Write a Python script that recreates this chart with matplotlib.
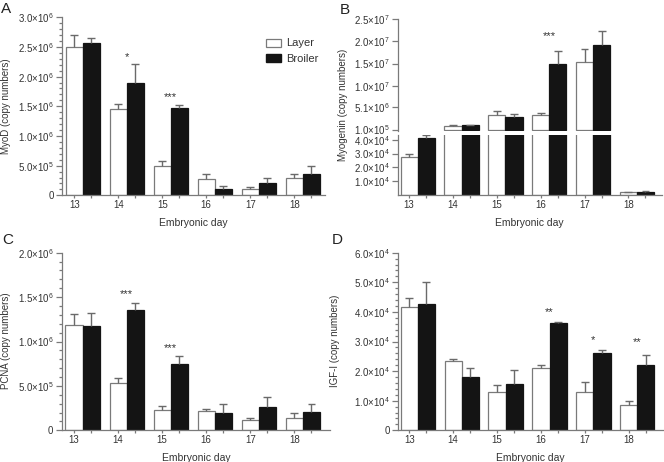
import matplotlib
matplotlib.use("Agg")
import matplotlib.pyplot as plt
import numpy as np
from matplotlib.ticker import FixedLocator, MultipleLocator
from matplotlib.patches import Patch

plt.rcParams['font.family'] = ['Liberation Sans', 'DejaVu Sans']
plt.rcParams['mathtext.fontset'] = 'custom'
plt.rcParams['mathtext.rm'] = 'Liberation Sans'
plt.rcParams['mathtext.it'] = 'Liberation Sans'

days = ["13", "14", "15", "16", "17", "18"]

# Panel A: MyoD
myod_layer = [2.50e6, 1.45e6, 0.50e6, 0.27e6, 0.107e6, 0.29e6]
myod_layer_err = [0.21e6, 0.09e6, 0.07e6, 0.095e6, 0.033e6, 0.07e6]
myod_broiler = [2.56e6, 1.89e6, 1.47e6, 0.11e6, 0.21e6, 0.365e6]
myod_broiler_err = [0.09e6, 0.33e6, 0.05e6, 0.05e6, 0.09e6, 0.135e6]
myod_sig = [(1, "*", 2.38e6), (2, "***", 1.70e6)]

# Panel B: Myogenin
myog_layer = [2.78e4, 1.0e6, 3.27e6, 3.27e6, 1.54e7, 2.2e3]
myog_layer_err = [0.19e4, 0.05e6, 0.93e6, 0.6e6, 2.8e6, 0.1e3]
myog_broiler = [4.12e4, 1.15e6, 2.97e6, 1.48e7, 1.92e7, 2.5e3]
myog_broiler_err = [0.19e4, 0.03e6, 0.63e6, 3.1e6, 3.1e6, 0.3e3]
myog_sig = [(3, "***", 2.18e7)]

# Panel C: PCNA
pcna_layer = [1.186e6, 0.533e6, 0.225e6, 0.214e6, 0.116e6, 0.143e6]
pcna_layer_err = [0.124e6, 0.057e6, 0.045e6, 0.03e6, 0.019e6, 0.047e6]
pcna_broiler = [1.18e6, 1.36e6, 0.747e6, 0.19e6, 0.266e6, 0.206e6]
pcna_broiler_err = [0.14e6, 0.07e6, 0.09e6, 0.11e6, 0.114e6, 0.094e6]
pcna_sig = [(1, "***", 1.56e6), (2, "***", 0.95e6)]

# Panel D: IGF-I
igf_layer = [4.18e4, 2.33e4, 1.29e4, 2.12e4, 1.28e4, 0.86e4]
igf_layer_err = [0.28e4, 0.09e4, 0.24e4, 0.09e4, 0.34e4, 0.12e4]
igf_broiler = [4.27e4, 1.8e4, 1.58e4, 3.61e4, 2.61e4, 2.19e4]
igf_broiler_err = [0.73e4, 0.3e4, 0.45e4, 0.04e4, 0.09e4, 0.37e4]
igf_sig = [(3, "**", 4.09e4), (4, "*", 3.13e4), (5, "**", 3.05e4)]

W, H = 664, 462
fig = plt.figure(figsize=(W / 100, H / 100), dpi=100)

TXT = '#333333'
SPINE = '#7a7a7a'
ERR = '#6a6a6a'
BLACK = '#141414'
BW = 0.39


def rect(l, r, top, bot):
    return [l / W, 1 - bot / H, (r - l) / W, (bot - top) / H]


def sci(v):
    if v == 0:
        return "0"
    e = int(np.floor(np.log10(v)))
    m = v / 10 ** e
    return r"$\mathregular{%.1f{\times}10^{%d}}$" % (m, e)


def style(ax, bottom=True):
    for s in ['top', 'right']:
        ax.spines[s].set_visible(False)
    ax.spines['left'].set_color(SPINE)
    ax.spines['bottom'].set_color(SPINE)
    ax.spines['left'].set_linewidth(0.9)
    ax.spines['bottom'].set_linewidth(0.9)
    ax.tick_params(axis='both', which='both', colors=SPINE, labelcolor=TXT,
                   labelsize=7, width=0.9, direction='out')
    ax.tick_params(axis='y', which='major', length=4, pad=2)
    ax.tick_params(axis='y', which='minor', length=2.5)
    ax.tick_params(axis='x', which='major', length=2.2, pad=1.2)
    if not bottom:
        ax.spines['bottom'].set_visible(False)


def bars(ax, layer, lerr, broiler, berr, floor=None):
    x = np.arange(len(days))
    for xs, vals, errs, fc, ec in [(x, layer, lerr, 'white', SPINE),
                                   (x + BW, broiler, berr, BLACK, BLACK)]:
        vals = np.array(vals, dtype=float)
        errs = np.array(errs, dtype=float)
        if floor is not None:
            keep = vals > floor
            xs, vals, errs = xs[keep], vals[keep], errs[keep]
        ax.bar(xs, vals, BW, color=fc, edgecolor=ec, linewidth=0.9, zorder=2)
        tops = vals + errs
        ax.vlines(xs, vals, tops, color=ERR, lw=1.0, zorder=3)
        ax.hlines(tops, xs - 0.09, xs + 0.09, color=ERR, lw=1.0, zorder=3)


def xaxis(ax, show=True):
    x = np.arange(len(days))
    ticks = np.sort(np.concatenate([x, x + BW]))
    ax.set_xticks(ticks)
    labels = []
    for t in ticks:
        labels.append(days[int(round(t))] if abs(t - round(t)) < 1e-6 else "")
    ax.set_xticklabels(labels)
    if show:
        ax.set_xlabel("Embryonic day", fontsize=7.5, color=TXT, labelpad=5.5)


def sig(ax, items):
    for i, s, y in items:
        ax.annotate(s, (i + BW / 2, y), xytext=(0, -4), textcoords='offset points',
                    ha='center', va='baseline', fontsize=8, color=TXT)


def ylab(x, y, s):
    fig.text(x / W, 1 - y / H, s, rotation=90, ha='center', va='center',
             fontsize=7, color=TXT)


# ---- A ----
axA = fig.add_axes(rect(62, 325, 17.3, 195.3))
bars(axA, myod_layer, myod_layer_err, myod_broiler, myod_broiler_err)
axA.set_xlim(-0.277, 5.70)
axA.set_ylim(0, 3.0e6)
ay = np.arange(0, 3.01e6, 0.5e6)
axA.yaxis.set_major_locator(FixedLocator(ay))
axA.yaxis.set_minor_locator(MultipleLocator(1e5))
axA.set_yticklabels([sci(v) for v in ay])
style(axA)
xaxis(axA)
ylab(6, 106, "MyoD (copy numbers)")
sig(axA, myod_sig)
leg = axA.legend(handles=[Patch(facecolor='white', edgecolor=SPINE, lw=0.9),
                          Patch(facecolor=BLACK, edgecolor=BLACK)],
                 labels=["Layer", "Broiler"], loc='upper left',
                 bbox_to_anchor=(266 / W, 1 - 38.5 / H), bbox_transform=fig.transFigure,
                 frameon=False, fontsize=8, handlelength=1.35, handleheight=0.72,
                 handletextpad=0.45, labelspacing=0.5, borderpad=0, borderaxespad=0)
for t in leg.get_texts():
    t.set_color(TXT)

# ---- B (broken axis) ----
axBt = fig.add_axes(rect(397.7, 661.7, 19.3, 131.5))
axBb = fig.add_axes(rect(397.7, 661.7, 134.5, 195.3))
b_low_top = 4.37e4
bars(axBt, myog_layer, myog_layer_err, myog_broiler, myog_broiler_err, floor=b_low_top)
bars(axBb, myog_layer, myog_layer_err, myog_broiler, myog_broiler_err)
for ax in (axBt, axBb):
    ax.set_xlim(-0.262, 5.76)
axBt.set_ylim(-3.5e5, 2.5e7)
bt_ticks = [1.0e5, 5.1e6, 1.0e7, 1.5e7, 2.0e7, 2.5e7]
axBt.yaxis.set_major_locator(FixedLocator(bt_ticks))
axBt.set_yticklabels([sci(v) for v in bt_ticks])
style(axBt, bottom=False)
axBt.set_xticks([])
axBb.set_ylim(0, b_low_top)
bb_ticks = [1e4, 2e4, 3e4, 4e4]
axBb.yaxis.set_major_locator(FixedLocator(bb_ticks))
axBb.set_yticklabels([sci(v) for v in bb_ticks])
style(axBb)
xaxis(axBb)
sig(axBt, myog_sig)
ylab(342.7, 105, "Myogenin (copy numbers)")

# ---- C ----
axC = fig.add_axes(rect(61.7, 330, 252.7, 430.3))
bars(axC, pcna_layer, pcna_layer_err, pcna_broiler, pcna_broiler_err)
axC.set_xlim(-0.28, 5.81)
axC.set_ylim(0, 2.0e6)
cy = np.arange(0, 2.01e6, 0.5e6)
axC.yaxis.set_major_locator(FixedLocator(cy))
axC.yaxis.set_minor_locator(MultipleLocator(1e5))
axC.set_yticklabels([sci(v) for v in cy])
style(axC)
xaxis(axC)
ylab(6, 341, "PCNA (copy numbers)")
sig(axC, pcna_sig)

# ---- D ----
axD = fig.add_axes(rect(398.3, 663, 252.7, 430.3))
bars(axD, igf_layer, igf_layer_err, igf_broiler, igf_broiler_err)
axD.set_xlim(-0.249, 5.78)
axD.set_ylim(0, 6.0e4)
dy = np.arange(0, 6.01e4, 1e4)
axD.yaxis.set_major_locator(FixedLocator(dy))
axD.yaxis.set_minor_locator(MultipleLocator(2e3))
axD.set_yticklabels([sci(v) for v in dy])
style(axD)
xaxis(axD)
ylab(335, 341, "IGF-I (copy numbers)")
sig(axD, igf_sig)

for lab, x, y in [("A", 1, 2), ("B", 340, 3), ("C", 2, 233), ("D", 332, 233)]:
    fig.text(x / W, 1 - y / H, lab, ha='left', va='top', fontsize=11, color='#222222')

fig.savefig("out.png", dpi=100)
